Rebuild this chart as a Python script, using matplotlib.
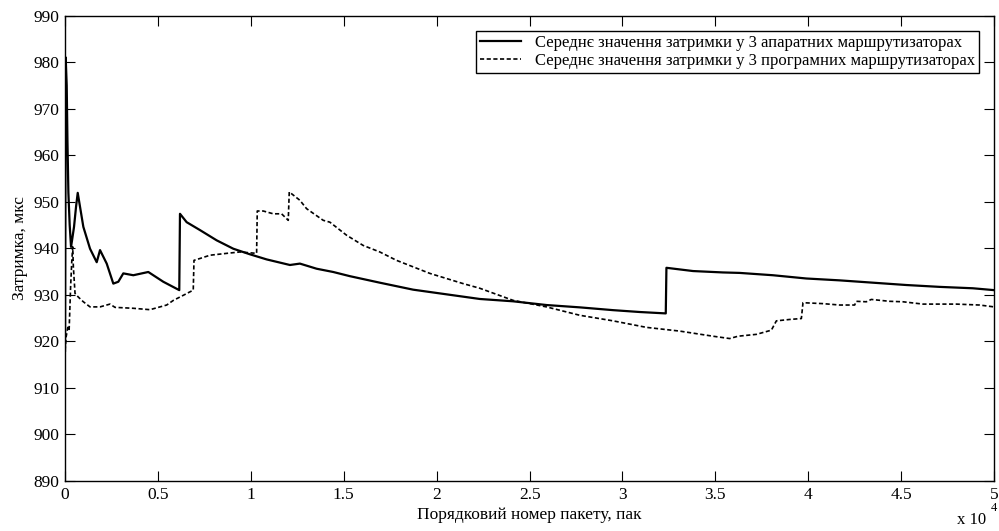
import matplotlib
matplotlib.use("Agg")
import matplotlib.pyplot as plt
import numpy as np

# Середнє значення затримки (мкс) від номера пакету
hw_x = [0, 35, 90, 130, 180, 250, 323, 377, 484, 592, 683, 985, 1345, 1705, 1883,
        2243, 2598, 2867, 3136, 3674, 4481, 5288, 6148, 6186, 6545, 7262, 8160,
        9054, 9950, 10850, 12103, 12640, 13540, 14432, 15330, 16940, 18734, 20527,
        22323, 24115, 25910, 27700, 29494, 30930, 32330, 32365, 33797, 35410, 36308,
        38100, 39895, 41687, 43480, 45275, 47066, 48857, 50000]
hw_y = [918, 981, 975, 963, 952, 945, 940.3, 941.7, 944.6, 948.9, 951.9, 944.6, 939.9,
        937.0, 939.6, 936.7, 932.4, 932.8, 934.6, 934.2, 934.9, 932.8, 931.0, 947.4,
        945.6, 943.9, 941.7, 939.9, 938.7, 937.6, 936.4, 936.7, 935.6, 934.9, 934.0,
        932.6, 931.1, 930.1, 929.1, 928.6, 927.8, 927.3, 926.7, 926.3, 926.0, 935.8,
        935.1, 934.8, 934.7, 934.2, 933.5, 933.1, 932.6, 932.1, 931.7, 931.4, 931.0]

sw_x = [0, 60, 150, 220, 300, 360, 412, 448, 538, 717, 985, 1345, 1883, 2420, 2690,
        3674, 4572, 5470, 5830, 6370, 6900, 6940, 7262, 7800, 8697, 9413, 10310,
        10345, 10667, 11205, 11653, 12013, 12067, 12640, 13000, 13894, 14254, 15150,
        16046, 16940, 17838, 18734, 19630, 20527, 21425, 22323, 24115, 25910, 27700,
        29494, 31290, 33080, 34872, 35770, 36218, 37206, 38013, 38282, 38998, 39627,
        39715, 40790, 41687, 42494, 42584, 43122, 43390, 44376, 45093, 46168, 47964,
        49218, 50000]
sw_y = [918, 921, 923, 922.4, 931.7, 937, 940.3, 936, 930.3, 929.5, 928.5, 927.4,
        927.4, 928.0, 927.3, 927.1, 926.8, 927.8, 928.8, 929.9, 931.0, 937.4, 937.8,
        938.5, 938.9, 939.2, 938.9, 948.0, 948.0, 947.4, 947.4, 946.0, 952.1, 950.3,
        948.5, 946.0, 945.6, 942.8, 940.6, 939.2, 937.4, 936.0, 934.6, 933.5, 932.4,
        931.4, 928.8, 927.4, 925.6, 924.4, 923.0, 922.2, 921.1, 920.6, 921.1, 921.5,
        922.4, 924.4, 924.7, 924.9, 928.3, 928.1, 927.8, 927.8, 928.6, 928.5, 929.0,
        928.6, 928.5, 928.0, 928.0, 927.8, 927.4]

x_ticks = np.arange(0, 50001, 5000)
y_ticks = np.arange(890, 991, 10)

hw_label = "Середнє значення затримки у 3 апаратних маршрутизаторах"
sw_label = "Середнє значення затримки у 3 програмних маршрутизаторах"

plt.rcParams["font.family"] = ["Liberation Serif", "DejaVu Serif"]

fig = plt.figure(figsize=(9.99, 5.31), dpi=100)
ax = fig.add_axes([0.0651, 0.0942, 0.930, 0.8766])

ax.plot(hw_x, hw_y, color="black", lw=1.6, label=hw_label)
ax.plot(sw_x, sw_y, color="black", lw=1.2, linestyle=(0, (2.5, 1.5)), label=sw_label)

ax.set_xlim(0, 50000)
ax.set_ylim(890, 990)
ax.set_xticks(x_ticks)
ax.set_xticklabels([f"{v / 1e4:g}" for v in x_ticks])
ax.set_yticks(y_ticks)
ax.tick_params(direction="in", length=7, width=0.8, labelsize=12.5,
               top=True, right=True, pad=4)
for s in ax.spines.values():
    s.set_linewidth(1.0)

ax.set_xlabel("Порядковий номер пакету, пак", fontsize=12.5, labelpad=3)
ax.set_ylabel("Затримка, мкс", fontsize=12.5, labelpad=4)

# множник осі X як у MATLAB
fig.text(0.958, 0.013, "x 10", fontsize=12, ha="left", va="baseline")
fig.text(0.992, 0.038, "4", fontsize=9, ha="left", va="baseline")

leg = ax.legend(loc="upper right", fontsize=12, frameon=True, fancybox=False,
                framealpha=1, edgecolor="black", handlelength=2.5,
                borderpad=0.25, labelspacing=0.15, borderaxespad=0.9)
leg.get_frame().set_linewidth(1.0)

fig.savefig("out.png", dpi=100)
